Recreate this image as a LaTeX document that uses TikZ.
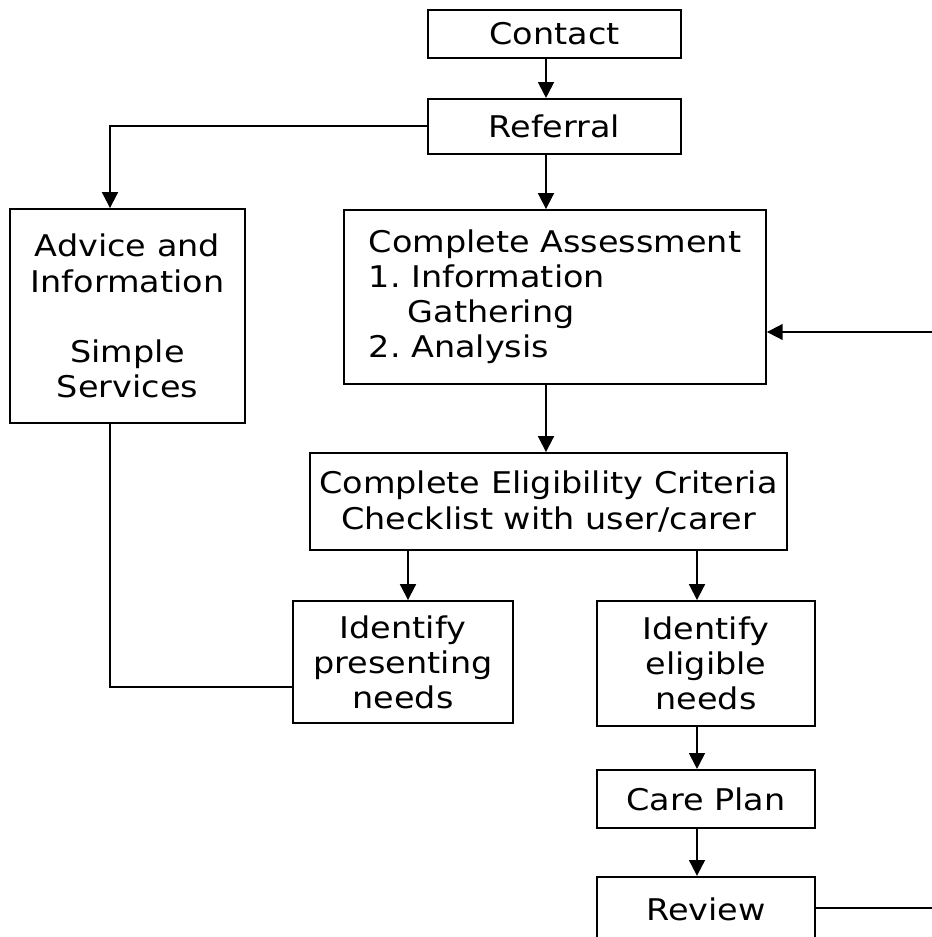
\documentclass[tikz,border=0pt]{standalone}
\usepackage{fontspec}
\setmainfont{DejaVu Sans}[FakeStretch=1.12]
\usepackage{tikz}
\usetikzlibrary{arrows.meta,positioning}

\begin{document}
\begin{tikzpicture}[x=0.02cm,y=-0.02cm,>={Triangle[width=9pt,length=9pt]},line width=1.1pt,font=\fontsize{17}{20}\selectfont]
  \useasboundingbox (0,0) rectangle (932,937);
  \clip (0,0) rectangle (932,937);
\tikzset{boxstyle/.style={draw,align=center,inner sep=0pt}}
  \node[boxstyle,minimum width=5.06cm,minimum height=0.96cm] (Contact) at (554.5,34) {Contact};
  \node[boxstyle,minimum width=5.06cm,minimum height=1.1cm] (Referral) [below =0.78cm of Contact] {Referral};
  \node[boxstyle,minimum width=4.7cm,minimum height=4.28cm] (Advice) at (127.5,316) {Advice and\\Information\\[20pt]Simple\\Services};
  \node[boxstyle,align=left,minimum width=8.44cm,minimum height=3.48cm] (Assess) at (555,297) {Complete Assessment\\1.~Information\\\hspace*{0.78cm}Gathering\\2.~Analysis};
  \node[boxstyle,minimum width=9.54cm,minimum height=1.94cm] (Elig) at (548.5,501.5) {Complete Eligibility Criteria\\Checklist with user/carer};
  \node[boxstyle,minimum width=4.4cm,minimum height=2.44cm] (Present) at (403,662) {Identify\\presenting\\needs};
  \node[boxstyle,minimum width=4.36cm,minimum height=2.5cm] (Eligible) at (706,663.5) {Identify\\eligible\\needs};
  \node[boxstyle,minimum width=4.36cm,minimum height=1.16cm] (Care) [below =0.84cm of Eligible] {Care Plan};
  \node[boxstyle,minimum width=4.36cm,minimum height=1.32cm] (Review) [below =0.94cm of Care] {Review};

  \coordinate (LeftCol) at (110,0);
  \coordinate (MidCol) at (546,0);
  \coordinate (PresCol) at (408,0);
  \coordinate (RightCol) at (697,0);
  \coordinate (LowRow) at (0,687);
  \coordinate (InRow) at (932,332);
  \coordinate (OutRow) at (932,908);

\tikzset{flowstyle/.style={->}}
\path (Contact.south -| MidCol)   edge [flowstyle] (Referral.north -| MidCol)
      (Referral.south -| MidCol)  edge [flowstyle] (Assess.north -| MidCol)
      (Assess.south -| MidCol)    edge [flowstyle] (Elig.north -| MidCol)
      (Elig.south -| PresCol)     edge [flowstyle] (Present.north -| PresCol)
      (Elig.south -| RightCol)    edge [flowstyle] (Eligible.north -| RightCol)
      (Eligible.south -| RightCol) edge [flowstyle] (Care.north -| RightCol)
      (Care.south -| RightCol)    edge [flowstyle] (Review.north -| RightCol)
      (InRow)                     edge [flowstyle] (Assess.east |- InRow);
\draw[flowstyle] (Referral.west) -| (Advice.north -| LeftCol);
\draw (Advice.south -| LeftCol) |- (Present.west |- LowRow);
\draw (Review.east |- OutRow) -- (OutRow);
\end{tikzpicture}
\end{document}
